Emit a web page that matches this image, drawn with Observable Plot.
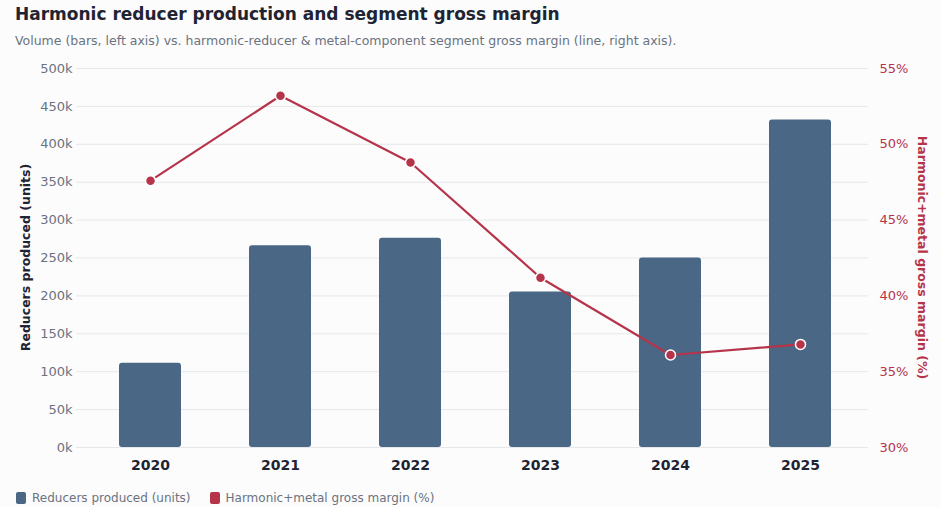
<!DOCTYPE html>
<html><head><meta charset="utf-8">
<script src="https://cdn.jsdelivr.net/npm/d3@7"></script>
<script src="https://cdn.jsdelivr.net/npm/@observablehq/plot@0.6"></script>
<style>
body{margin:0;background:#fcfcfc;font-family:"DejaVu Sans",sans-serif;}
#wrap{width:941px;height:507px;position:relative;overflow:hidden;}
h1{position:absolute;left:15px;top:4px;margin:0;font-size:17px;font-weight:bold;color:#1f2433;white-space:nowrap;}
.sub{position:absolute;left:15px;top:33px;font-size:12.5px;color:#6b7280;white-space:nowrap;}
#chart{position:absolute;left:0;top:56px;}
.ylab{position:absolute;font-size:12.5px;font-weight:bold;white-space:nowrap;transform-origin:center center;}
.legend{position:absolute;left:16px;top:491px;font-size:12px;color:#6b7280;display:flex;align-items:center;}
.legend .sw{display:inline-block;width:10px;height:12px;border-radius:2px;margin-right:6px;}
.legend .item{display:flex;align-items:center;margin-right:19px;}
</style></head>
<body>
<div id="wrap">
<h1>Harmonic reducer production and segment gross margin</h1>
<div class="sub">Volume (bars, left axis) vs. harmonic-reducer &amp; metal-component segment gross margin (line, right axis).</div>
<div id="chart"></div>
<div class="ylab" id="yl" style="color:#1f2433;">Reducers produced (units)</div>
<div class="ylab" id="yr" style="color:#b5344a;">Harmonic+metal gross margin (%)</div>
<div class="legend">
  <span class="item"><span class="sw" style="background:#4a6785"></span>Reducers produced (units)</span>
  <span class="item"><span class="sw" style="background:#b5344a"></span>Harmonic+metal gross margin (%)</span>
</div>
</div>
<script>
const years = ["2020","2021","2022","2023","2024","2025"];
const units = [111000, 266000, 276000, 205000, 250000, 432000];
const marginPct = [47.6, 53.2, 48.8, 41.2, 36.1, 36.8];
const leftTicks = [0,50000,100000,150000,200000,250000,300000,350000,400000,450000,500000];
const rightTicks = [30,35,40,45,50,55];

const barColor = "#4a6785", lineColor = "#b5344a";
const toY = m => (m - 30) / 25 * 500000;
const fromY = v => v / 500000 * 25 + 30;
const data = years.map((y, i) => ({year: y, units: units[i], margin: marginPct[i]}));

const chart = Plot.plot({
  width: 941, height: 424,
  marginTop: 12, marginBottom: 33, marginLeft: 76, marginRight: 73,
  style: {fontFamily: "DejaVu Sans, sans-serif", fontSize: "13px", background: "transparent", overflow: "visible"},
  x: {domain: years, paddingInner: 0.525, paddingOuter: 0.29, align: 0.54},
  y: {domain: [0, 500000]},
  marks: [
    Plot.gridY(leftTicks, {stroke: "#e5e7eb", strokeOpacity: 1, strokeWidth: 1}),
    Plot.barY(data, {x: "year", y: "units", fill: barColor, rx: 3}),
    Plot.line(data, {x: "year", y: d => toY(d.margin), stroke: lineColor, strokeWidth: 2.2}),
    Plot.dot(data, {x: "year", y: d => toY(d.margin), r: 5, fill: lineColor, stroke: "white", strokeWidth: 1.5}),
    Plot.axisY(leftTicks, {anchor: "left", tickSize: 0, tickPadding: 4, tickFormat: d => (d/1000) + "k", fill: "#6b7280", label: null}),
    Plot.axisY(rightTicks.map(toY), {anchor: "right", tickSize: 0, tickPadding: 11, tickFormat: d => Math.round(fromY(d)) + "%", fill: lineColor, label: null}),
    Plot.axisX({tickSize: 0, tickPadding: 13, fontSize: 14, fontWeight: "bold", fill: "#1f2433", label: null})
  ]
});
document.getElementById("chart").appendChild(chart);

function placeLabel(id, cx, cy, rot) {
  const el = document.getElementById(id);
  const w = el.offsetWidth, h = el.offsetHeight;
  el.style.left = (cx - w/2) + "px";
  el.style.top = (cy - h/2) + "px";
  el.style.transform = "rotate(" + rot + "deg)";
}
placeLabel("yl", 25, 257, -90);
placeLabel("yr", 922, 257, 90);
</script>
</body></html>
